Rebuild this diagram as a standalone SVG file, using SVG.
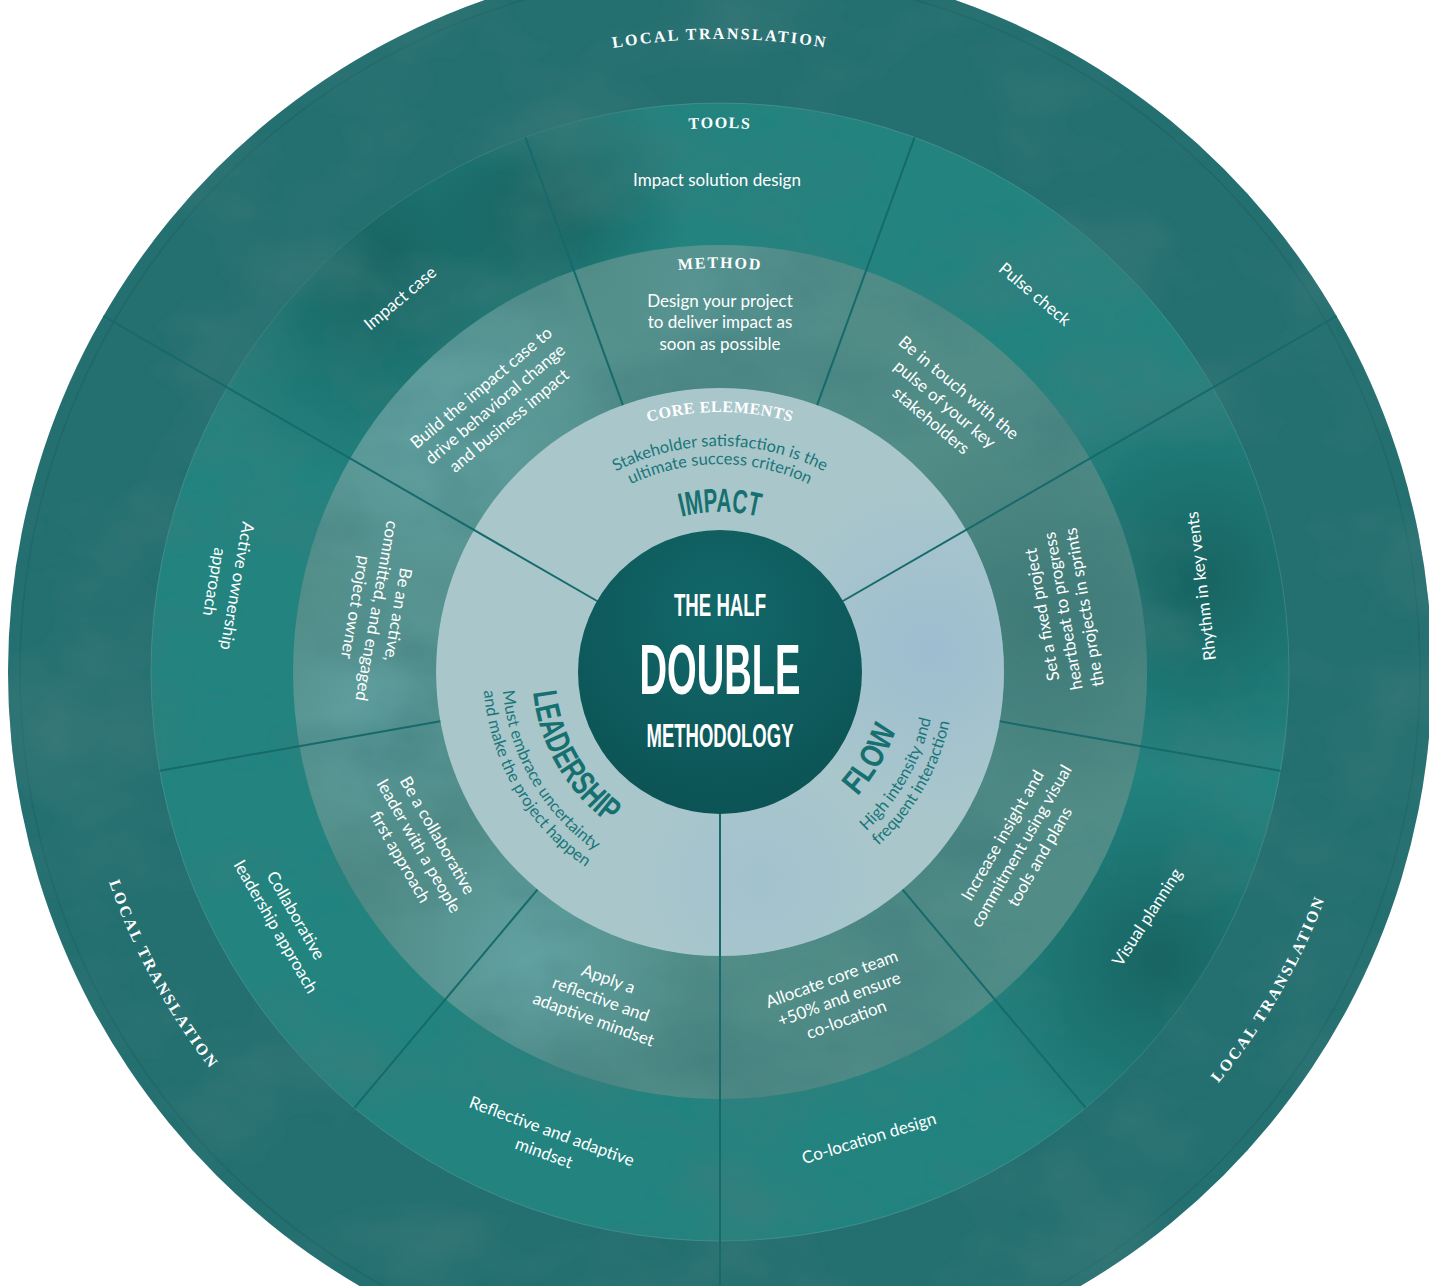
<svg xmlns="http://www.w3.org/2000/svg" width="1429" height="1286" viewBox="0 0 1429 1286">
<style>
.it{font-family:Lato,"Open Sans","Liberation Sans",sans-serif;font-size:17px;fill:#ffffff;text-anchor:middle}
.hd{font-family:"Liberation Serif",serif;font-weight:bold;fill:#ffffff;font-size:16px}
.ct{font-family:Lato,"Open Sans","Liberation Sans",sans-serif;fill:#1a7679;font-size:16.5px}
.big{font-family:"Liberation Sans",Arial,sans-serif;font-weight:bold}
.dv{stroke:#166a6c;stroke-width:2;fill:none}
</style>
<defs>
<radialGradient id="dk"><stop offset="0" stop-color="#0f4b4b" stop-opacity="0.55"/><stop offset="1" stop-color="#0f4b4b" stop-opacity="0"/></radialGradient>
<radialGradient id="lt"><stop offset="0" stop-color="#6cb0b4" stop-opacity="0.6"/><stop offset="1" stop-color="#6cb0b4" stop-opacity="0"/></radialGradient>
<radialGradient id="bl"><stop offset="0" stop-color="#9bbbd2" stop-opacity="0.8"/><stop offset="1" stop-color="#9bbbd2" stop-opacity="0"/></radialGradient>
<radialGradient id="cg" cx="0.5" cy="0.3" r="0.7"><stop offset="0" stop-color="#12686a"/><stop offset="1" stop-color="#0c5355"/></radialGradient>
<clipPath id="cTools"><path d="M151 672a569 569 0 1 0 1138 0a569 569 0 1 0 -1138 0ZM293 672a427 427 0 1 1 854 0a427 427 0 1 1 -854 0Z" clip-rule="evenodd"/></clipPath>
<clipPath id="cMeth"><path d="M293 672a427 427 0 1 0 854 0a427 427 0 1 0 -854 0ZM436 672a284 284 0 1 1 568 0a284 284 0 1 1 -568 0Z" clip-rule="evenodd"/></clipPath>
<clipPath id="cCore"><circle cx="720" cy="672" r="284"/></clipPath>
<filter id="wc" x="0" y="0" width="100%" height="100%">
<feTurbulence type="fractalNoise" baseFrequency="0.006 0.009" numOctaves="4" seed="3" result="n"/>
<feColorMatrix in="n" type="matrix" values="0 0 0 0 0.05 0 0 0 0 0.2 0 0 0 0 0.2 1.4 0 0 0 -0.62" result="a"/>
<feComposite in="a" in2="SourceGraphic" operator="in"/>
</filter>
<path id="pLT" d="M171.8 355.5A633 633 0 0 1 1268.2 355.5"/>
<path id="pTools" d="M248.9 400A544 544 0 0 1 1191.1 400"/>
<path id="pMeth" d="M370.1 470A404 404 0 0 1 1069.9 470"/>
<path id="pCore" d="M494.8 542A260 260 0 0 1 945.2 542"/>
<path id="pS1" d="M524.3 559A226 226 0 0 1 915.7 559"/>
<path id="pS2" d="M539.9 568A208 208 0 0 1 899.9 568"/>
<path id="pImp" d="M581.4 592A160 160 0 0 1 858.6 592"/>
<path id="pLead" d="M557.2 578A188 188 0 0 0 720 860"/>
<path id="pL1" d="M531.2 563A218 218 0 0 0 720 890"/>
<path id="pL2" d="M514.8 553.5A237 237 0 0 0 720 909"/>
<path id="pFlow" d="M720 857A185 185 0 0 0 880.2 579.5"/>
<path id="pF1" d="M720 888A216 216 0 0 0 907.1 564"/>
<path id="pF2" d="M720 907A235 235 0 0 0 923.5 554.5"/>
<path id="pLTL" d="M169.2 334.5A646 646 0 0 0 703.1 1317.8"/>
<path id="pLTR" d="M720 1318A646 646 0 0 0 1279.5 349"/>
</defs>
<rect width="1429" height="1286" fill="#ffffff"/>

<g id="ring-local-translation">
<circle cx="720" cy="672" r="712" fill="#246f70"/>
<circle cx="720" cy="672" r="700" fill="none" stroke="#1d6061" stroke-width="1.5" opacity="0.5"/>
</g>
<g id="ring-tools">
<circle cx="720" cy="672" r="569" fill="#22837f" stroke="#7fb5b3" stroke-opacity="0.35" stroke-width="1"/>
<g clip-path="url(#cTools)">
<circle cx="380" cy="260" r="230" fill="url(#dk)"/>
<circle cx="1200" cy="580" r="200" fill="url(#dk)"/>
<circle cx="1160" cy="960" r="190" fill="url(#dk)"/>
<circle cx="560" cy="200" r="130" fill="url(#dk)"/>
</g>
</g>
<g id="ring-method">
<circle cx="720" cy="672" r="427" fill="#518c87"/>
<g clip-path="url(#cMeth)">
<circle cx="440" cy="430" r="220" fill="url(#lt)"/>
<circle cx="380" cy="720" r="150" fill="url(#lt)"/>
<circle cx="530" cy="960" r="160" fill="url(#lt)"/>
<circle cx="720" cy="300" r="140" fill="url(#lt)" opacity="0.5"/>
<circle cx="1040" cy="620" r="200" fill="url(#dk)" opacity="0.5"/>
</g>
</g>
<g id="ring-core">
<circle cx="720" cy="672" r="284" fill="#a9c7cb"/>
<g clip-path="url(#cCore)">
<circle cx="930" cy="650" r="170" fill="url(#bl)"/>
<circle cx="760" cy="880" r="130" fill="url(#bl)" opacity="0.6"/>
</g>
</g>
<path d="M8 672a712 712 0 1 0 1424 0a712 712 0 1 0 -1424 0ZM436 672a284 284 0 1 1 568 0a284 284 0 1 1 -568 0Z" fill-rule="evenodd" fill="#000" filter="url(#wc)"/>

<g id="connectors">
<line class="dv" x1="841.2" y1="602" x2="1336.6" y2="316"/>
<line class="dv" x1="598.8" y1="602" x2="103.4" y2="316"/>
<line class="dv" x1="720" y1="812" x2="720" y2="1290"/>
<line class="dv" x1="817.1" y1="405.1" x2="914.6" y2="137.3"/>
<line class="dv" x1="622.9" y1="405.1" x2="525.4" y2="137.3"/>
<line class="dv" x1="440.3" y1="721.3" x2="159.6" y2="770.8"/>
<line class="dv" x1="537.4" y1="889.6" x2="354.3" y2="1107.9"/>
<line class="dv" x1="902.6" y1="889.6" x2="1085.7" y2="1107.9"/>
<line class="dv" x1="999.7" y1="721.3" x2="1280.4" y2="770.8"/>
</g>

<g id="center">
<circle cx="720" cy="672" r="142" fill="url(#cg)"/>
<text class="big" x="720" y="616" font-size="32" fill="#fff" text-anchor="middle" textLength="92" lengthAdjust="spacingAndGlyphs">THE HALF</text>
<text class="big" x="720" y="694" font-size="70" fill="#fff" text-anchor="middle" textLength="161" lengthAdjust="spacingAndGlyphs">DOUBLE</text>
<text class="big" x="720" y="747" font-size="33.5" fill="#fff" text-anchor="middle" textLength="147" lengthAdjust="spacingAndGlyphs">METHODOLOGY</text>
</g>

<g id="labels-rings">
<text class="hd" font-size="16" letter-spacing="2.3"><textPath href="#pLT" startOffset="50%" text-anchor="middle">LOCAL TRANSLATION</textPath></text>
<text class="hd" font-size="16" letter-spacing="2.3"><textPath href="#pLTL" startOffset="50%" text-anchor="middle">LOCAL TRANSLATION</textPath></text>
<text class="hd" font-size="16" letter-spacing="2.3"><textPath href="#pLTR" startOffset="50%" text-anchor="middle">LOCAL TRANSLATION</textPath></text>
<text class="hd" font-size="16" letter-spacing="1.5"><textPath href="#pTools" startOffset="50%" text-anchor="middle">TOOLS</textPath></text>
<text class="hd" font-size="16" letter-spacing="1.8"><textPath href="#pMeth" startOffset="50%" text-anchor="middle">METHOD</textPath></text>
<text class="hd" font-size="16" letter-spacing="0.5"><textPath href="#pCore" startOffset="50%" text-anchor="middle">CORE ELEMENTS</textPath></text>
</g>

<g id="core-impact">
<text class="ct"><textPath href="#pS1" startOffset="50%" text-anchor="middle">Stakeholder satisfaction is the</textPath></text>
<text class="ct"><textPath href="#pS2" startOffset="50%" text-anchor="middle">ultimate success criterion</textPath></text>
<text class="big" font-size="33.5" fill="#16706f"><textPath href="#pImp" startOffset="50%" text-anchor="middle" textLength="78" lengthAdjust="spacingAndGlyphs">IMPACT</textPath></text>
</g>
<g id="core-leadership">
<text class="big" font-size="34" fill="#16706f"><textPath href="#pLead" startOffset="50%" text-anchor="middle" textLength="156" lengthAdjust="spacingAndGlyphs">LEADERSHIP</textPath></text>
<text class="ct"><textPath href="#pL1" startOffset="50%" text-anchor="middle">Must embrace uncertainty</textPath></text>
<text class="ct"><textPath href="#pL2" startOffset="50%" text-anchor="middle">and make the project happen</textPath></text>
</g>
<g id="core-flow">
<text class="big" font-size="33" fill="#16706f"><textPath href="#pFlow" startOffset="50%" text-anchor="middle" textLength="78" lengthAdjust="spacingAndGlyphs">FLOW</textPath></text>
<text class="ct"><textPath href="#pF1" startOffset="50%" text-anchor="middle">High intensity and</textPath></text>
<text class="ct"><textPath href="#pF2" startOffset="50%" text-anchor="middle">frequent interaction</textPath></text>
</g>

<g id="method-1" transform="translate(720 322)"><text class="it"><tspan x="0" y="-15.5">Design your project</tspan><tspan x="0" y="6">to deliver impact as</tspan><tspan x="0" y="27.5">soon as possible</tspan></text></g>
<g id="method-2" transform="translate(945 404) rotate(40)"><text class="it"><tspan x="0" y="-15.5">Be in touch with the</tspan><tspan x="0" y="6">pulse of your key</tspan><tspan x="0" y="27.5">stakeholders</tspan></text></g>
<g id="method-3" transform="translate(1063 611) rotate(-100)"><text class="it"><tspan x="0" y="-15.5">Set a fixed project</tspan><tspan x="0" y="6">heartbeat to progress</tspan><tspan x="0" y="27.5">the projects in sprints</tspan></text></g>
<g id="method-4" transform="translate(1021 846) rotate(-60)"><text class="it"><tspan x="0" y="-15.5">Increase insight and</tspan><tspan x="0" y="6">commitment using visual</tspan><tspan x="0" y="27.5">tools and plans</tspan></text></g>
<g id="method-5" transform="translate(839 999) rotate(-20)"><text class="it"><tspan x="0" y="-15.5">Allocate core team</tspan><tspan x="0" y="6">+50% and ensure</tspan><tspan x="0" y="27.5">co-location</tspan></text></g>
<g id="method-6" transform="translate(601 999) rotate(20)"><text class="it"><tspan x="0" y="-15.5">Apply a</tspan><tspan x="0" y="6">reflective and</tspan><tspan x="0" y="27.5">adaptive mindset</tspan></text></g>
<g id="method-7" transform="translate(419 846) rotate(60)"><text class="it"><tspan x="0" y="-15.5">Be a collaborative</tspan><tspan x="0" y="6">leader with a people</tspan><tspan x="0" y="27.5">first approach</tspan></text></g>
<g id="method-8" transform="translate(377 611) rotate(100)"><text class="it"><tspan x="0" y="-15.5">Be an active,</tspan><tspan x="0" y="6">committed, and engaged</tspan><tspan x="0" y="27.5">project owner</tspan></text></g>
<g id="method-9" transform="translate(495 404) rotate(-40)"><text class="it"><tspan x="0" y="-15.5">Build the impact case to</tspan><tspan x="0" y="6">drive behavioral change</tspan><tspan x="0" y="27.5">and business impact</tspan></text></g>

<g id="tool-1" transform="translate(717 180)"><text class="it" y="6">Impact solution design</text></g>
<g id="tool-2" transform="translate(1035 294) rotate(40)"><text class="it" y="6">Pulse check</text></g>
<g id="tool-3" transform="translate(1201 586) rotate(-97)"><text class="it" y="6">Rhythm in key vents</text></g>
<g id="tool-4" transform="translate(1147 917) rotate(-57)"><text class="it" y="6">Visual planning</text></g>
<g id="tool-5" transform="translate(869 1138) rotate(-17)"><text class="it" y="6">Co-location design</text></g>
<g id="tool-6" transform="translate(548 1142) rotate(20)"><text class="it"><tspan x="0" y="-5.5">Reflective and adaptive</tspan><tspan x="0" y="17.5">mindset</tspan></text></g>
<g id="tool-7" transform="translate(286 921) rotate(60)"><text class="it"><tspan x="0" y="-5.5">Collaborative</tspan><tspan x="0" y="17.5">leadership approach</tspan></text></g>
<g id="tool-8" transform="translate(226 584) rotate(100)"><text class="it"><tspan x="0" y="-5.5">Active ownership</tspan><tspan x="0" y="17.5">approach</tspan></text></g>
<g id="tool-9" transform="translate(400 298) rotate(-40)"><text class="it" y="6">Impact case</text></g>
</svg>
